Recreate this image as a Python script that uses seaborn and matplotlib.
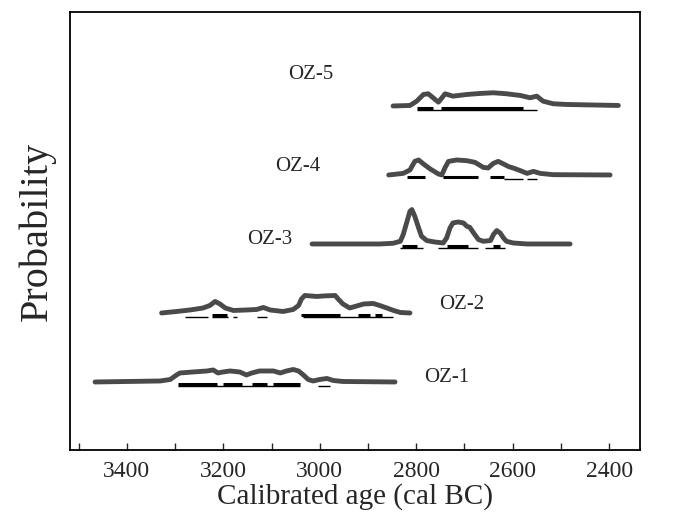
import numpy as np
import pandas as pd
import matplotlib
matplotlib.use("Agg")
import matplotlib.pyplot as plt
import seaborn as sns

# calibrated probability curves (year cal BC, relative probability)
oz1_years = [3466, 3331, 3310, 3297, 3290, 3263, 3234, 3221, 3211, 3201, 3186, 3166, 3152, 3141,
             3125, 3096, 3082, 3069, 3055, 3044, 3034, 3024, 3014, 3000, 2985, 2972, 2952, 2844]
oz1_prob = [0, 1, 2.5, 7, 9, 10, 11, 12, 9, 10, 11, 10, 7, 9,
            11, 11, 9, 11, 12.5, 11, 7, 2.5, 1, 2.5, 3.5, 1.5, 0.5, 0]

oz2_years = [3328, 3297, 3269, 3242, 3228, 3217, 3207, 3196, 3179, 3152, 3131, 3117, 3103, 3076,
             3055, 3044, 3038, 3031, 3006, 2993, 2968, 2962, 2952, 2938, 2927, 2909, 2889, 2876,
             2861, 2847, 2833, 2813]
oz2_prob = [0, 1.5, 3, 5, 7.5, 11.5, 9, 5, 2.5, 3, 3.5, 5.5, 3, 1.5,
            3.5, 7.5, 14, 17.5, 16.5, 17, 17.5, 14, 9, 5, 6.5, 9, 9.5, 7.5,
            5, 2.5, 0.5, 0]

oz3_years = [3016, 2876, 2848, 2833, 2827, 2820, 2813, 2809, 2803, 2795, 2789, 2778, 2762, 2744,
             2737, 2730, 2724, 2713, 2702, 2695, 2689, 2681, 2671, 2661, 2646, 2640, 2633, 2626,
             2619, 2613, 2599, 2570, 2481]
oz3_prob = [0, 0, 0.7, 2.7, 9.4, 21, 32.7, 34.4, 27.7, 16, 7.7, 3.4, 2, 1,
            6, 16, 21, 22, 21, 17.7, 16.7, 11, 4.4, 2.7, 3.4, 9.4, 13.4, 11,
            6, 2.7, 1, 0, 0]

oz4_years = [2857, 2827, 2813, 2803, 2795, 2785, 2771, 2754, 2747, 2740, 2733, 2716, 2695, 2678,
             2661, 2651, 2640, 2630, 2619, 2608, 2599, 2584, 2570, 2557, 2543, 2516, 2398]
oz4_prob = [0, 1.6, 5, 13.6, 15, 11, 6, 1, 0, 7.6, 13.6, 15, 14.3, 12.6,
            7.6, 7, 11.6, 13.6, 11, 8.3, 7, 4.3, 1.6, 3.6, 1.6, 0.3, 0]

oz5_years = [2848, 2813, 2799, 2785, 2775, 2765, 2754, 2740, 2724, 2695, 2668, 2640, 2613, 2584,
             2564, 2550, 2537, 2516, 2488, 2381]
oz5_prob = [0, 0.5, 4.8, 11.5, 12.2, 8.2, 3.8, 12.2, 9.8, 11.5, 12.5, 13.2, 12.2, 10.5,
            8.2, 9.8, 4.8, 2.2, 1.5, 0.5]

# calibrated ranges: 1 sigma (thick) and 2 sigma (thin)
oz1_1s = [(3294, 3213), (3201, 3161), (3140, 3110), (3097, 3041)]
oz1_2s = [(3294, 3041), (3003, 2979)]
oz2_1s = [(3224, 3192), (3038, 2958), (2921, 2896), (2885, 2871)]
oz2_2s = [(3280, 3232), (3224, 3190), (3180, 3172), (3131, 3110), (3035, 2848)]
oz3_1s = [(2830, 2799), (2737, 2692), (2640, 2626)]
oz3_2s = [(2833, 2786), (2754, 2672), (2657, 2616)]
oz4_1s = [(2820, 2782), (2744, 2671), (2646, 2619)]
oz4_2s = [(2619, 2578), (2570, 2550)]
oz5_1s = [(2799, 2765), (2748, 2578)]
oz5_2s = [(2799, 2550)]

samples = ["OZ-1", "OZ-2", "OZ-3", "OZ-4", "OZ-5"]
years = [oz1_years, oz2_years, oz3_years, oz4_years, oz5_years]
probs = [oz1_prob, oz2_prob, oz3_prob, oz4_prob, oz5_prob]
ranges_1s = [oz1_1s, oz2_1s, oz3_1s, oz4_1s, oz5_1s]
ranges_2s = [oz1_2s, oz2_2s, oz3_2s, oz4_2s, oz5_2s]
label_x = [2736, 2705, 3103, 3045, 3018]
label_dy = [4, 8, 4, 8, 31]

sns.set_style("white")
plt.rcParams['font.family'] = ['Liberation Serif', 'DejaVu Serif']

fig = plt.figure(figsize=(6.82, 5.18), dpi=100)
ax = fig.add_axes([0.1026, 0.1313, 0.8358, 0.8456])

spacing = 69
base = 68
for i, name in enumerate(samples):
    off = base + spacing * i
    df = pd.DataFrame({"year": years[i], "p": np.array(probs[i]) + off})
    sns.lineplot(data=df, x="year", y="p", ax=ax, color="#4a4a4a", linewidth=3.5,
                 sort=False, estimator=None)
    for a, b in ranges_1s[i]:
        ax.hlines(off - 2, a, b, color="black", linewidth=2.2)
    for a, b in ranges_2s[i]:
        ax.hlines(off - 4.5, a, b, color="black", linewidth=1.0)
    ax.text(label_x[i], off + label_dy[i], name, fontsize=15, ha="center", va="center")

ax.set_xlim(3518, 2336)
ax.set_ylim(0, 438)
ax.set_xticks([3400, 3200, 3000, 2800, 2600, 2400])
ax.set_xticks(np.arange(3500, 2339, -100), minor=True)
ax.set_yticks([])
ax.tick_params(axis="x", which="both", direction="in", length=5, width=1, labelsize=17,
               pad=8, bottom=True, top=False)
ax.set_xlabel("Calibrated age (cal BC)", fontsize=21, labelpad=1)
ax.set_ylabel("Probability", fontsize=29, labelpad=10)
for s in ax.spines.values():
    s.set_color("black")
    s.set_linewidth(1.3)

fig.savefig("out.png", dpi=100)
